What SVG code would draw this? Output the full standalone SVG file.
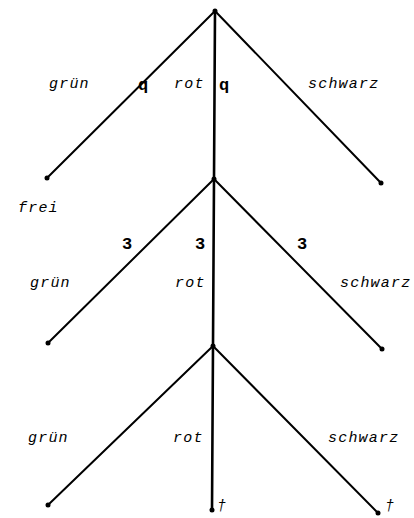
<svg xmlns="http://www.w3.org/2000/svg" width="414" height="518" viewBox="0 0 414 518">
<style>
.e{stroke:#000;stroke-width:2;fill:none;stroke-linecap:round}
.v{stroke-width:2.6}
.d{fill:#000}
.t{font-family:"Liberation Mono",monospace;font-style:italic;font-size:15px;letter-spacing:1.2px;fill:#000}
.n{font-family:"Liberation Mono",monospace;font-size:17px;font-weight:bold;fill:#000}
</style>
<rect width="414" height="518" fill="#fff"/>
<g id="connectors">
<line class="e" x1="215" y1="11" x2="47" y2="178"/>
<line class="e v" x1="215" y1="11" x2="214" y2="179"/>
<line class="e" x1="215" y1="11" x2="381" y2="183"/>
<line class="e" x1="214" y1="179" x2="48" y2="343"/>
<line class="e v" x1="214" y1="179" x2="213" y2="346"/>
<line class="e" x1="214" y1="179" x2="382" y2="349"/>
<line class="e" x1="213" y1="346" x2="48" y2="505"/>
<line class="e v" x1="213" y1="346" x2="212" y2="510"/>
<line class="e" x1="213" y1="346" x2="378" y2="513"/>
</g>
<g id="n0"><circle class="d" cx="215" cy="11" r="2.5"/></g>
<g id="n1"><circle class="d" cx="47" cy="178" r="2.5"/><text class="t" x="18" y="212">frei</text></g>
<g id="n2"><circle class="d" cx="214" cy="179" r="2.5"/></g>
<g id="n3"><circle class="d" cx="381" cy="183" r="2.5"/></g>
<g id="n4"><circle class="d" cx="48" cy="343" r="2.5"/></g>
<g id="n5"><circle class="d" cx="213" cy="346" r="2.5"/></g>
<g id="n6"><circle class="d" cx="382" cy="349" r="2.5"/></g>
<g id="n7"><circle class="d" cx="48" cy="505" r="2.5"/></g>
<g id="n8"><circle class="d" cx="212" cy="510" r="2.5"/><text class="t" x="217" y="510" font-size="13">†</text></g>
<g id="n9"><circle class="d" cx="378" cy="513" r="2.5"/><text class="t" x="385" y="510" font-size="13">†</text></g>
<g id="labels">
<text class="t" x="49" y="88">grün</text>
<text class="n" x="138" y="90">q</text>
<text class="t" x="174" y="88">rot</text>
<text class="n" x="219" y="90">q</text>
<text class="t" x="308" y="88">schwarz</text>
<text class="n" x="122" y="249">3</text>
<text class="n" x="195" y="249">3</text>
<text class="n" x="297" y="249">3</text>
<text class="t" x="30" y="287">grün</text>
<text class="t" x="175" y="287">rot</text>
<text class="t" x="340" y="287">schwarz</text>
<text class="t" x="28" y="442">grün</text>
<text class="t" x="173" y="442">rot</text>
<text class="t" x="328" y="442">schwarz</text>
</g>
</svg>
